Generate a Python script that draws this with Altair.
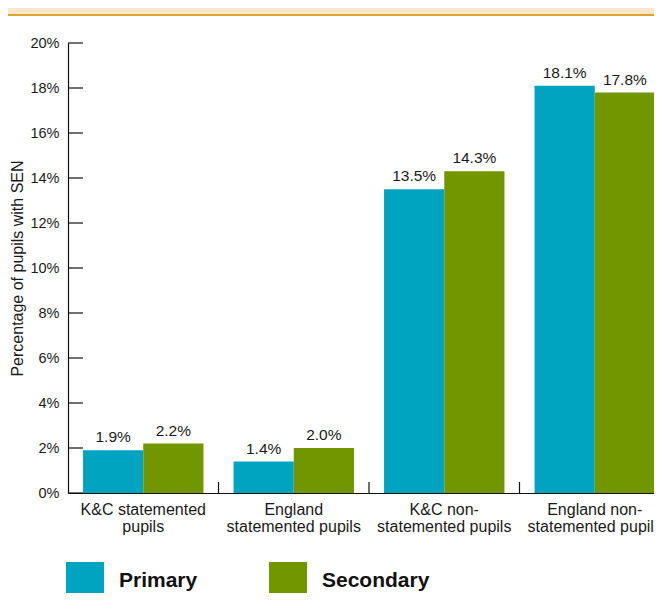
import altair as alt
import pandas as pd

# ---- data ----
categories = [
    "K&C statemented\npupils",
    "England\nstatemented pupils",
    "K&C non-\nstatemented pupils",
    "England non-\nstatemented pupils",
]
series = ["Primary", "Secondary"]
primary = [1.9, 1.4, 13.5, 18.1]
secondary = [2.2, 2.0, 14.3, 17.8]
y_tick_values = [0, 2, 4, 6, 8, 10, 12, 14, 16, 18, 20]
colors = ["#00a3c0", "#729600"]

rows = []
for c, p, s in zip(categories, primary, secondary):
    rows.append({"category": c, "series": "Primary", "value": p})
    rows.append({"category": c, "series": "Secondary", "value": s})
df = pd.DataFrame(rows)
ticks_df = pd.DataFrame({"value": y_tick_values})
xticks_df = pd.DataFrame({"category": categories[1:]})
one = pd.DataFrame({"a": [0]})

W, H = 586, 450      # visible plot area
XR = 602             # full band range (last group runs past the window edge)
FONT = "Liberation Sans"
TXT = "#1a1a1a"

x_enc = alt.X(
    "category:N",
    sort=categories,
    scale=alt.Scale(paddingInner=0, paddingOuter=0, range=[0, XR]),
    axis=alt.Axis(
        title=None,
        labelAngle=0,
        labelExpr="split(datum.label, '\\n')",
        labelFont=FONT,
        labelFontSize=16,
        labelColor=TXT,
        labelLineHeight=17,
        labelPadding=8,
        labelLimit=300,
        ticks=False,
        tickSize=0,
        domainColor="#111",
        domainWidth=1.2,
    ),
)
y_enc = alt.Y(
    "value:Q",
    scale=alt.Scale(domain=[0, 20], nice=False),
    axis=alt.Axis(
        title="Percentage of pupils with SEN",
        titleFont=FONT,
        titleFontSize=16,
        titleFontWeight="normal",
        titleColor=TXT,
        titleAngle=270,
        titleX=-45.5,
        titleY=225,
        titleAlign="center",
        titleBaseline="alphabetic",
        values=y_tick_values,
        labelExpr="datum.value + '%'",
        labelFont=FONT,
        labelFontSize=14.5,
        labelColor=TXT,
        labelPadding=9,
        ticks=False,
        tickSize=0,
        grid=False,
        domainColor="#111",
        domainWidth=1.2,
    ),
)
xoff = alt.XOffset(
    "series:N",
    sort=series,
    scale=alt.Scale(paddingInner=0, paddingOuter=0.25),
)

bars = alt.Chart(df).mark_bar().encode(
    x=x_enc,
    y=y_enc,
    xOffset=xoff,
    color=alt.Color(
        "series:N",
        sort=series,
        scale=alt.Scale(domain=series, range=colors),
        legend=alt.Legend(
            title=None,
            orient="none",
            legendX=-2,
            legendY=519,
            direction="horizontal",
            symbolType="square",
            symbolSize=1444,
            symbolStrokeWidth=0,
            symbolOpacity=1,
            labelFont=FONT,
            labelFontSize=21,
            labelFontWeight="bold",
            labelColor="#111",
            labelOffset=15,
            columnPadding=71,
            padding=0,
        ),
    ),
)

labels = alt.Chart(df).transform_calculate(
    lbl="format(datum.value, '.1f') + '%'"
).mark_text(
    font=FONT, fontSize=15.5, color=TXT, baseline="alphabetic", dy=-8
).encode(
    x=alt.X("category:N", sort=categories),
    xOffset=alt.XOffset("series:N", sort=series),
    y=alt.Y("value:Q"),
    text="lbl:N",
)

ytick_rules = alt.Chart(ticks_df).mark_rule(color="#111", strokeWidth=1.2).encode(
    y=alt.Y("value:Q"),
    x=alt.value(0),
    x2=alt.value(15),
)

xtick_rules = alt.Chart(xticks_df).mark_rule(color="#111", strokeWidth=1.2).encode(
    x=alt.X("category:N", sort=categories, bandPosition=0),
    y=alt.value(H - 11),
    y2=alt.value(H),
)

band = alt.Chart(one).mark_rect(color="#f7e8cb").encode(
    x=alt.value(-60), x2=alt.value(W), y=alt.value(-35), y2=alt.value(-29)
)
band_line = alt.Chart(one).mark_rect(color="#e2a22c").encode(
    x=alt.value(-60), x2=alt.value(W), y=alt.value(-29), y2=alt.value(-27)
)

chart = (
    alt.layer(band, band_line, bars, labels, ytick_rules, xtick_rules)
    .properties(
        width=W,
        height=H,
        autosize=alt.AutoSizeParams(type="none"),
        padding={"left": 60, "top": 35, "right": 0, "bottom": 100},
    )
    .configure_view(stroke=None)
)

chart.save("out.html", embed_options={"renderer": "svg", "actions": False})
